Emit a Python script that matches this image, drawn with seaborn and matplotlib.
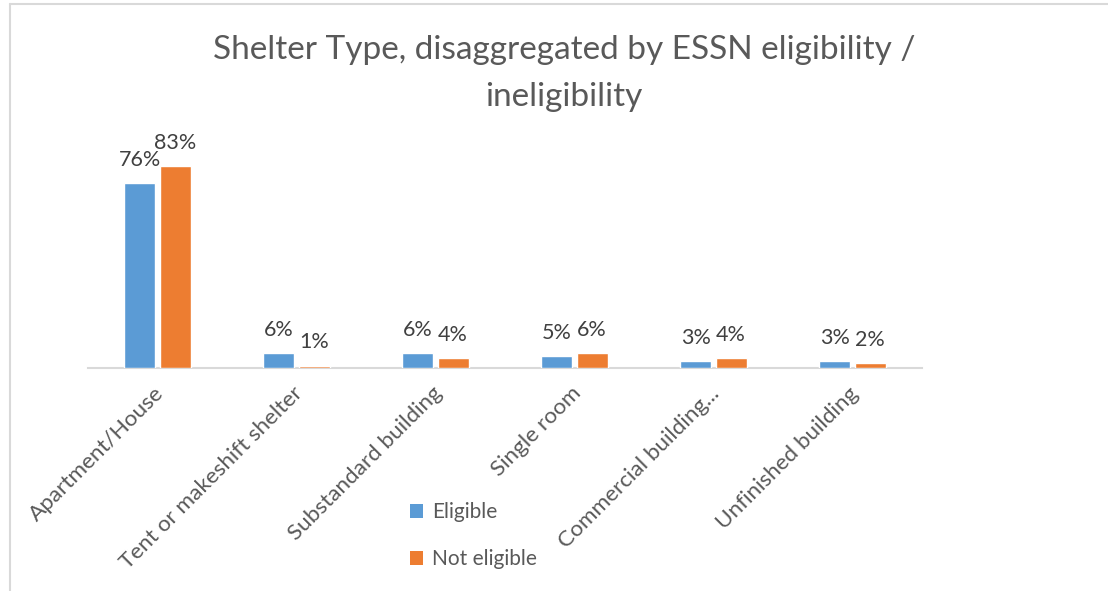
import matplotlib
matplotlib.use("Agg")
import matplotlib.pyplot as plt
import matplotlib.transforms as mtransforms
import seaborn as sns
import pandas as pd
from matplotlib.lines import Line2D
from matplotlib.patches import Patch

# chart data
categories = ["Apartment/House", "Tent or makeshift shelter", "Substandard building",
              "Single room", "Commercial building...", "Unfinished building"]
eligible = [76, 6, 6, 5, 3, 3]
not_eligible = [83, 1, 4, 6, 4, 2]
series_names = ["Eligible", "Not eligible"]
colors = ["#5B9BD5", "#ED7D31"]
title = "Shelter Type, disaggregated by ESSN eligibility /\nineligibility"

df = pd.DataFrame({
    "category": categories * 2,
    "series": [series_names[0]] * len(categories) + [series_names[1]] * len(categories),
    "value": eligible + not_eligible,
})

sns.set_theme(style="white")
plt.rcParams["font.family"] = ["Lato", "DejaVu Sans"]

fig = plt.figure(figsize=(11.08, 5.91), dpi=100)
ax = fig.add_axes([0.0794, 0.3773, 0.7526, 0.3706])

sns.barplot(data=df, x="category", y="value", hue="series", palette=colors,
            width=0.51, gap=0.13, ax=ax, legend=False, saturation=1)

ax.set_ylim(0, 90)
ax.set_xlim(-0.5, len(categories) - 0.5)

# data labels
for cont in ax.containers:
    ax.bar_label(cont, labels=[f"{int(round(v))}%" for v in cont.datavalues],
                 padding=9.5, fontsize=15.5, color="#404040")

sns.despine(ax=ax, left=True, top=True, right=True)
ax.spines["bottom"].set_color("#d9d9d9")
ax.spines["bottom"].set_linewidth(1.5)
ax.spines["bottom"].set_zorder(0.5)
ax.set_yticks([])
ax.set_xlabel("")
ax.set_ylabel("")
ax.tick_params(axis="x", length=0, pad=11)
shift = mtransforms.ScaledTranslation(-4 / 100, 0, fig.dpi_scale_trans)
for lbl in ax.get_xticklabels():
    lbl.set_rotation(45)
    lbl.set_ha("right")
    lbl.set_rotation_mode("anchor")
    lbl.set_fontsize(16.2)
    lbl.set_color("#595959")
    lbl.set_transform(lbl.get_transform() + shift)

fig.text(0.509, 0.876, title, ha="center", va="center", fontsize=24,
         color="#595959", linespacing=1.7)

handles = [Patch(facecolor=c, edgecolor="none") for c in colors]
fig.legend(handles, series_names, loc="center left", bbox_to_anchor=(0.353, 0.094),
           frameon=False, fontsize=15, labelcolor="#595959", handlelength=0.65,
           handleheight=0.65, handletextpad=0.4, labelspacing=1.3)

# chart border
fig.add_artist(Line2D([0.009, 1.0], [0.993, 0.993], color="#d9d9d9", lw=1.5))
fig.add_artist(Line2D([0.009, 0.009], [0.0, 0.993], color="#d9d9d9", lw=1.5))

fig.savefig("out.png", dpi=100)
